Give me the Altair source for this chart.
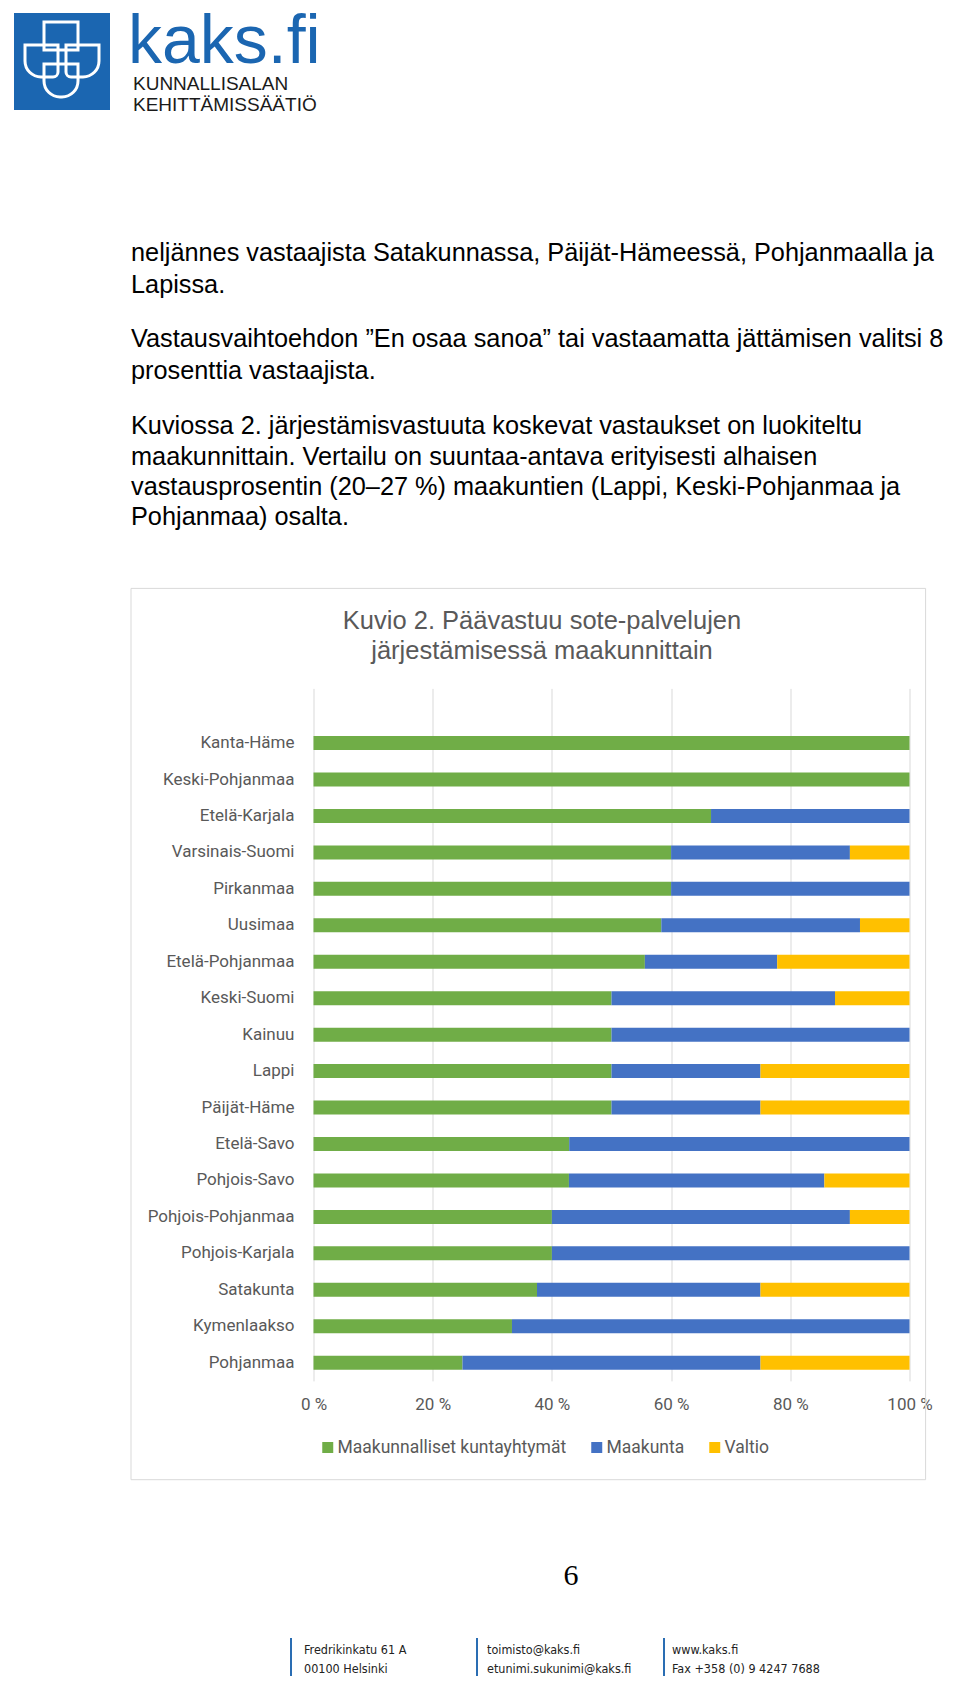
import altair as alt
import pandas as pd

# ---------------- data ----------------
categories = ["Kanta-Häme", "Keski-Pohjanmaa", "Etelä-Karjala", "Varsinais-Suomi",
              "Pirkanmaa", "Uusimaa", "Etelä-Pohjanmaa", "Keski-Suomi", "Kainuu",
              "Lappi", "Päijät-Häme", "Etelä-Savo", "Pohjois-Savo",
              "Pohjois-Pohjanmaa", "Pohjois-Karjala", "Satakunta", "Kymenlaakso",
              "Pohjanmaa"]
series = ["Maakunnalliset kuntayhtymät", "Maakunta", "Valtio"]
kuntayhtymat = [100, 100, 66.7, 60, 60, 58.3, 55.6, 50, 50, 50, 50, 42.9, 42.9, 40, 40, 37.5, 33.3, 25]
maakunta = [0, 0, 33.3, 30, 40, 33.3, 22.2, 37.5, 50, 25, 25, 57.1, 42.9, 50, 60, 37.5, 66.7, 50]
valtio = [0, 0, 0, 10, 0, 8.3, 22.2, 12.5, 0, 25, 25, 0, 14.3, 10, 0, 25, 0, 25]
colors = ["#70ad47", "#4472c4", "#ffc000"]
x_ticks = [0, 0.2, 0.4, 0.6, 0.8, 1.0]

title_lines = ["Kuvio 2. Päävastuu sote-palvelujen", "järjestämisessä maakunnittain"]
page_lines = [
    "neljännes vastaajista Satakunnassa, Päijät-Hämeessä, Pohjanmaalla ja",
    "Lapissa.",
    "Vastausvaihtoehdon ”En osaa sanoa” tai vastaamatta jättämisen valitsi 8",
    "prosenttia vastaajista.",
    "Kuviossa 2. järjestämisvastuuta koskevat vastaukset on luokiteltu",
    "maakunnittain. Vertailu on suuntaa-antava erityisesti alhaisen",
    "vastausprosentin (20–27 %) maakuntien (Lappi, Keski-Pohjanmaa ja",
    "Pohjanmaa) osalta.",
]
footer_lines = [["Fredrikinkatu 61 A", "00100 Helsinki"],
                ["toimisto@kaks.fi", "etunimi.sukunimi@kaks.fi"],
                ["www.kaks.fi", "Fax +358 (0) 9 4247 7688"]]

rows = []
for s_i, vals in enumerate([kuntayhtymat, maakunta, valtio]):
    for c, v in zip(categories, vals):
        if v > 0:
            rows.append({"alue": c, "sarja": series[s_i], "arvo": v, "k": s_i})
df = pd.DataFrame(rows)

# ---------------- layout (page coordinates) ----------------
OX, OY = 313.5, 688.4          # plot origin on the page
W, H = 596, 692.5
SVG_W, SVG_H = 944, 1670
NARROW = "Liberation Sans Narrow, DejaVu Sans Condensed, Roboto, sans-serif"
LABEL_FONT = "Roboto"

def P(xp, yp):
    return xp - OX, yp - OY

one = alt.Data(values=[{}])

def txt(s, xp, yp, size, color="#000000", font="Liberation Sans",
        align="left", baseline="middle"):
    x, y = P(xp, yp)
    return alt.Chart(one).mark_text(
        text=s, align=align, baseline=baseline, fontSize=size, font=font, color=color
    ).encode(x=alt.value(x), y=alt.value(y))

def rect(x1, y1, x2, y2, fill="transparent", stroke="transparent", sw=0, **kw):
    a, b = P(x1, y1)
    c, d = P(x2, y2)
    return alt.Chart(one).mark_rect(fill=fill, stroke=stroke, strokeWidth=sw, **kw).encode(
        x=alt.value(a), x2=alt.value(c), y=alt.value(b), y2=alt.value(d))

layers = []

# chart frame (transparent fill so the axes behind stay visible)
layers.append(rect(131, 588.4, 925.6, 1479.7, stroke="#d9d9d9", sw=1))

# logo
logo_blue = "#1b66b1"
layers.append(rect(14, 13, 110, 110, fill=logo_blue))
layers.append(rect(44, 22, 78, 50, stroke="#ffffff", sw=3))
layers.append(rect(25, 45, 58, 77, stroke="#ffffff", sw=3, cornerRadiusBottomLeft=16, cornerRadiusBottomRight=5))
layers.append(rect(66, 45, 99, 77, stroke="#ffffff", sw=3, cornerRadiusBottomRight=16, cornerRadiusBottomLeft=5))
layers.append(rect(44, 64, 78, 97, stroke="#ffffff", sw=3, cornerRadiusBottomLeft=16, cornerRadiusBottomRight=16))
layers.append(txt("kaks.fi", 128, 63, 68, color=logo_blue, baseline="alphabetic"))
layers.append(txt("KUNNALLISALAN", 133, 90, 19, color="#1a1a1a", baseline="alphabetic"))
layers.append(txt("KEHITTÄMISSÄÄTIÖ", 133, 110.5, 19, color="#1a1a1a", baseline="alphabetic"))

# page text
page_y = [253, 284.5, 339.3, 370.5, 426.3, 456.5, 487, 517]
for s, yy in zip(page_lines, page_y):
    layers.append(txt(s, 131, yy, 25.3, color="#000000"))

# chart title
for s, yy in zip(title_lines, [620.6, 650.7]):
    layers.append(txt(s, 542, yy, 25.5, color="#595959", align="center"))

# bars
y_domain = [" "] + categories
bars = alt.Chart(df).mark_bar(size=14).encode(
    x=alt.X("arvo:Q", stack="normalize",
            scale=alt.Scale(domain=[0, 1], nice=False),
            axis=alt.Axis(values=x_ticks, labelExpr="round(datum.value*100) + ' %'",
                          title=None, domain=False, ticks=False, grid=True,
                          gridColor="#d9d9d9", gridWidth=1, labelPadding=16,
                          labelFont=LABEL_FONT, labelFontSize=17, labelColor="#595959",
                          labelFlush=False)),
    y=alt.Y("alue:N", scale=alt.Scale(domain=y_domain, paddingInner=0, paddingOuter=0),
            axis=alt.Axis(title=None, domain=False, ticks=False, grid=False,
                          labelPadding=19.5, labelFont=LABEL_FONT, labelFontSize=17,
                          labelColor="#595959", labelLimit=0)),
    color=alt.Color("sarja:N", scale=alt.Scale(domain=series, range=colors),
                    legend=alt.Legend(orient="none", legendX=5.5, legendY=750,
                                      direction="horizontal", title=None,
                                      symbolType="square", symbolSize=121,
                                      symbolStrokeWidth=0, labelFont=LABEL_FONT,
                                      labelFontSize=17.5, labelColor="#595959",
                                      labelLimit=0,
                                      columnPadding=21, labelOffset=1, padding=0)),
    order=alt.Order("k:Q", sort="ascending"),
)
layers.append(bars)

# page number
layers.append(txt("6", 571, 1576, 30, color="#000000", font="Liberation Serif", align="center"))

# footer
foot_bar_x = [290, 476, 663]
foot_txt_x = [304, 487, 672]
for bx, tx, lines in zip(foot_bar_x, foot_txt_x, footer_lines):
    layers.append(rect(bx, 1638, bx + 2, 1676, fill="#2a6db3"))
    layers.append(txt(lines[0], tx, 1649.5, 12.5, color="#222222", font=NARROW))
    layers.append(txt(lines[1], tx, 1668.5, 12.5, color="#222222", font=NARROW))

chart = alt.layer(*layers).properties(
    width=W, height=H,
    autosize=alt.AutoSizeParams(type="none"),
    padding={"left": OX - 8, "top": OY - 8,
             "right": SVG_W - (OX - 8) - W, "bottom": SVG_H - (OY - 8) - H},
    background="#ffffff",
).configure_view(strokeWidth=0)

chart.save("out.html", embed_options={"renderer": "svg", "actions": False})
